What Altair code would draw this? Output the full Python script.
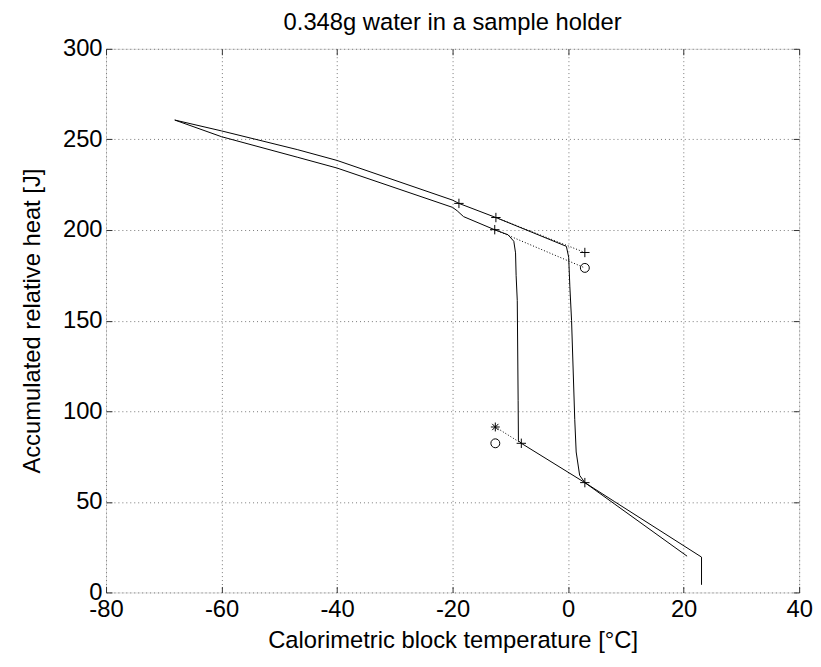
import altair as alt
import pandas as pd

# ---- data ----
# heating (melting) run
heat_x = [-68.1, -60.0, -46.9, -40.0, -20.0, -18.9, -12.5, -0.3, 0.1, 0.3, 0.6, 1.15, 1.4, 2.0, 2.9, 8.0, 20.6]
heat_y = [260.7, 254.7, 244.4, 238.4, 216.5, 214.7, 206.9, 191.0, 185.0, 169.0, 150.0, 95.5, 77.5, 64.6, 60.6, 48.9, 20.0]
# cooling (supercooling / freezing) run
cool_x = [23.1, 23.1, 8.0, 2.9, -8.1, -8.6, -8.65, -8.8, -9.0, -9.1, -9.4, -10.4, -12.6, -18.1, -19.2, -20.0, -40.0, -46.9, -60.0, -68.1]
cool_y = [4.2, 19.5, 50.2, 60.6, 82.3, 83.7, 106.0, 161.0, 175.0, 187.4, 193.8, 197.4, 200.0, 207.4, 210.6, 212.5, 234.2, 240.2, 251.5, 260.7]

# markers
plus_x = [-18.9, -12.5, -12.7, 2.9, -8.1, 2.9]
plus_y = [214.7, 206.9, 200.2, 187.6, 82.3, 60.6]
ring_x = [2.9, -12.6]
ring_y = [179.1, 82.3]
star_x = [-12.6]
star_y = [91.3]

# dotted extrapolation segments
fit_seg = [1, 1, 2, 2, 3, 3]
fit_x = [-12.5, 2.9, -12.7, 2.9, -12.6, -8.1]
fit_y = [206.9, 187.6, 200.2, 179.1, 91.3, 82.3]

x_ticks = [-80, -60, -40, -20, 0, 20, 40]
y_ticks = [0, 50, 100, 150, 200, 250, 300]

FONT = "Liberation Sans"

curves = pd.concat([
    pd.DataFrame({"x": heat_x, "y": heat_y, "curve": "heat", "i": range(len(heat_x))}),
    pd.DataFrame({"x": cool_x, "y": cool_y, "curve": "cool", "i": range(len(cool_x))}),
])
plus_df = pd.DataFrame({"x": plus_x, "y": plus_y})
ring_df = pd.DataFrame({"x": ring_x, "y": ring_y})
star_df = pd.DataFrame({"x": star_x, "y": star_y})
fit_df = pd.DataFrame({"x": fit_x, "y": fit_y, "seg": fit_seg, "i": list(range(len(fit_x)))})

xs = alt.Scale(domain=[-80, 40], nice=False, zero=False)
ys = alt.Scale(domain=[0, 300], nice=False, zero=False)

grid_kw = dict(grid=True, gridDash=[1, 3], gridColor="#777777", gridWidth=1)
lab_kw = dict(labelFont=FONT, labelFontSize=24, labelColor="black", titleFont=FONT,
              titleFontSize=24, titleFontWeight="normal", titleColor="black",
              tickColor="#333333", tickWidth=1, domain=False, labelFlush=False,
              labelOverlap=False, labelExpr="'' + datum.value")

x_bottom = alt.Axis(values=x_ticks, orient="bottom", offset=-6, tickSize=6, labelPadding=5,
                    title="Calorimetric block temperature [°C]", titlePadding=8, **grid_kw, **lab_kw)
y_left = alt.Axis(values=y_ticks, orient="left", offset=-6, tickSize=6, labelPadding=4,
                  title="Accumulated relative heat [J]", titlePadding=18, **grid_kw, **lab_kw)
x_top = alt.Axis(values=x_ticks, orient="top", offset=-6, tickSize=6, labels=False, grid=False,
                 domain=False, tickColor="#333333", title=None)
y_right = alt.Axis(values=y_ticks, orient="right", offset=-6, tickSize=6, labels=False, grid=False,
                   domain=False, tickColor="#333333", title=None)

lines_main = alt.Chart(curves).mark_line(color="black", strokeWidth=1).encode(
    x=alt.X("x:Q", scale=xs, axis=x_bottom),
    y=alt.Y("y:Q", scale=ys, axis=y_left),
    detail="curve:N",
    order="i:Q",
)

fits = alt.Chart(fit_df).mark_line(color="black", strokeWidth=1, strokeDash=[1, 2]).encode(
    x=alt.X("x:Q", scale=xs, axis=x_top),
    y=alt.Y("y:Q", scale=ys, axis=y_right),
    detail="seg:N",
    order="i:Q",
)

plus = alt.Chart(plus_df).mark_point(shape="M-1,0L1,0M0,-1L0,1", size=90, filled=False,
                                     color="black", strokeWidth=1, opacity=1).encode(
    x=alt.X("x:Q", scale=xs, axis=None),
    y=alt.Y("y:Q", scale=ys, axis=None),
)
ring = alt.Chart(ring_df).mark_point(shape="circle", size=81, filled=False,
                                     color="black", strokeWidth=1, opacity=1).encode(
    x=alt.X("x:Q", scale=xs, axis=None),
    y=alt.Y("y:Q", scale=ys, axis=None),
)
star = alt.Chart(star_df).mark_point(
    shape="M-1,0L1,0M0,-1L0,1M-0.7,-0.7L0.7,0.7M-0.7,0.7L0.7,-0.7",
    size=81, filled=False, color="black", strokeWidth=1, opacity=1).encode(
    x=alt.X("x:Q", scale=xs, axis=None),
    y=alt.Y("y:Q", scale=ys, axis=None),
)

chart = alt.layer(lines_main, fits, plus, ring, star).resolve_axis(
    x="independent", y="independent"
).properties(
    width=700,
    height=549,
    title=alt.TitleParams("0.348g water in a sample holder", font=FONT, fontSize=24,
                          fontWeight="normal", color="black", anchor="middle", offset=2),
    autosize=alt.AutoSizeParams(type="none"),
    padding={"left": 99, "top": 38, "right": 14, "bottom": 64},
).configure_view(stroke="#333333", strokeWidth=1).configure(background="white")

chart.save("out.html", embed_options={"renderer": "svg", "actions": False})
